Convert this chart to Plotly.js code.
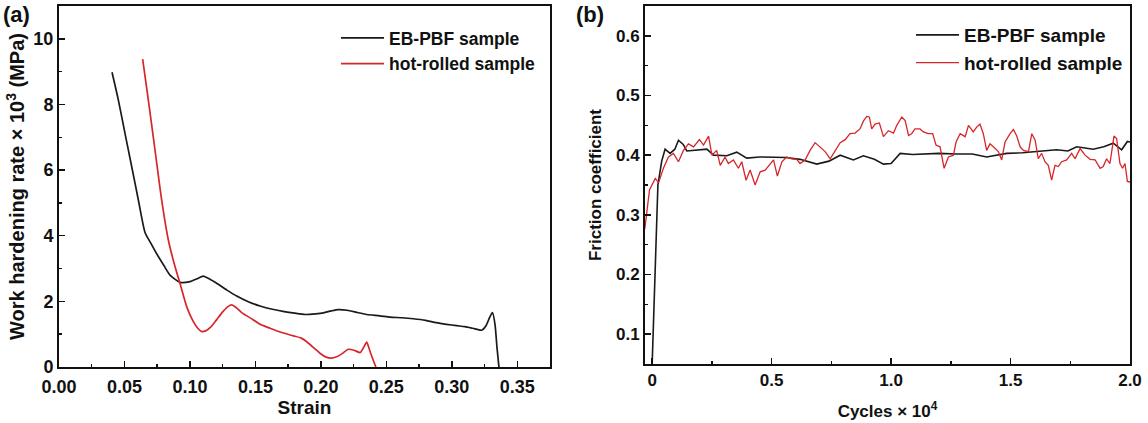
<!DOCTYPE html>
<html>
<head>
<meta charset="utf-8">
<script src="https://cdn.plot.ly/plotly-3.0.1.min.js"></script>
<style>
html,body{margin:0;padding:0;background:#fff;}
#chart{width:1148px;height:423px;}
</style>
</head>
<body>
<div id="chart"></div>
<script>
// ---- Panel (a): work hardening rate vs strain ----
const strainEB = [0.0405, 0.0453, 0.0504, 0.0555, 0.0606, 0.0657, 0.0700, 0.0746, 0.0800, 0.0848, 0.0924, 0.1000, 0.1050, 0.1102, 0.1150, 0.1204, 0.1280, 0.1357, 0.1450, 0.1535, 0.1630, 0.1720, 0.1800, 0.1880, 0.1960, 0.2020, 0.2080, 0.2133, 0.2200, 0.2280, 0.2350, 0.2450, 0.2530, 0.2620, 0.2706, 0.2800, 0.2880, 0.2960, 0.3037, 0.3100, 0.3160, 0.3228, 0.3260, 0.3290, 0.3310, 0.3330, 0.3345, 0.3360];
const rateEB = [8.98, 8.14, 7.12, 6.11, 5.09, 4.10, 3.78, 3.45, 3.10, 2.80, 2.58, 2.60, 2.68, 2.77, 2.68, 2.55, 2.35, 2.16, 1.98, 1.86, 1.76, 1.69, 1.64, 1.60, 1.62, 1.65, 1.71, 1.75, 1.73, 1.66, 1.60, 1.56, 1.52, 1.50, 1.47, 1.42, 1.35, 1.30, 1.26, 1.23, 1.18, 1.12, 1.25, 1.52, 1.66, 1.30, 0.60, 0.00];
const strainHR = [0.0639, 0.0682, 0.0733, 0.0784, 0.0835, 0.0886, 0.0924, 0.0975, 0.1026, 0.1060, 0.1090, 0.1120, 0.1160, 0.1200, 0.1250, 0.1290, 0.1319, 0.1350, 0.1400, 0.1480, 0.1535, 0.1600, 0.1700, 0.1790, 0.1850, 0.1892, 0.1950, 0.1993, 0.2040, 0.2080, 0.2120, 0.2160, 0.2210, 0.2260, 0.2300, 0.2330, 0.2350, 0.2380, 0.2420];
const rateHR = [9.38, 8.14, 6.62, 5.09, 3.87, 3.06, 2.55, 1.84, 1.38, 1.18, 1.08, 1.10, 1.22, 1.42, 1.68, 1.84, 1.89, 1.82, 1.64, 1.45, 1.30, 1.20, 1.05, 0.95, 0.88, 0.77, 0.57, 0.42, 0.30, 0.27, 0.31, 0.40, 0.54, 0.50, 0.44, 0.62, 0.76, 0.42, 0.00];

// ---- Panel (b): friction coefficient vs cycles (x 10^4) ----
const cyclesEB = [0, 0.008, 0.016, 0.024, 0.040, 0.054, 0.075, 0.095, 0.110, 0.130, 0.145, 0.187, 0.229, 0.257, 0.3125, 0.354, 0.396, 0.450, 0.508, 0.560, 0.619, 0.689, 0.740, 0.787, 0.842, 0.884, 0.930, 0.968, 1.000, 1.038, 1.090, 1.135, 1.200, 1.275, 1.340, 1.400, 1.484, 1.550, 1.623, 1.693, 1.740, 1.777, 1.846, 1.890, 1.930, 1.965, 1.989, 2.000];
const frictionEB = [0.05, 0.15, 0.26, 0.35, 0.39, 0.41, 0.403, 0.41, 0.425, 0.418, 0.407, 0.409, 0.41, 0.40, 0.399, 0.405, 0.395, 0.397, 0.396, 0.396, 0.393, 0.385, 0.39, 0.40, 0.392, 0.399, 0.393, 0.385, 0.386, 0.403, 0.401, 0.402, 0.403, 0.402, 0.402, 0.397, 0.403, 0.404, 0.406, 0.409, 0.407, 0.414, 0.41, 0.414, 0.42, 0.409, 0.423, 0.422];
const cyclesHR = [-0.031, -0.022, -0.011, 0.013, 0.027, 0.047, 0.068, 0.089, 0.110, 0.131, 0.152, 0.173, 0.198, 0.215, 0.236, 0.250, 0.270, 0.285, 0.305, 0.319, 0.340, 0.361, 0.375, 0.393, 0.410, 0.431, 0.452, 0.473, 0.494, 0.508, 0.524, 0.543, 0.563, 0.584, 0.605, 0.619, 0.640, 0.661, 0.682, 0.703, 0.724, 0.745, 0.766, 0.787, 0.808, 0.828, 0.849, 0.870, 0.884, 0.898, 0.909, 0.919, 0.933, 0.951, 0.968, 0.989, 1.010, 1.024, 1.045, 1.059, 1.073, 1.086, 1.100, 1.121, 1.135, 1.156, 1.174, 1.188, 1.205, 1.222, 1.240, 1.261, 1.272, 1.289, 1.310, 1.324, 1.344, 1.358, 1.372, 1.386, 1.400, 1.414, 1.428, 1.449, 1.463, 1.477, 1.498, 1.512, 1.526, 1.540, 1.554, 1.575, 1.589, 1.603, 1.616, 1.630, 1.644, 1.658, 1.672, 1.686, 1.700, 1.714, 1.735, 1.756, 1.770, 1.791, 1.812, 1.833, 1.854, 1.875, 1.888, 1.902, 1.916, 1.933, 1.944, 1.958, 1.969, 1.979, 1.989, 2.000];
const frictionHR = [0.276, 0.303, 0.342, 0.361, 0.354, 0.378, 0.397, 0.403, 0.389, 0.408, 0.419, 0.414, 0.426, 0.417, 0.432, 0.400, 0.408, 0.383, 0.397, 0.386, 0.392, 0.378, 0.389, 0.358, 0.375, 0.350, 0.372, 0.375, 0.386, 0.392, 0.365, 0.389, 0.397, 0.394, 0.393, 0.386, 0.392, 0.408, 0.421, 0.414, 0.406, 0.394, 0.408, 0.421, 0.426, 0.436, 0.437, 0.444, 0.457, 0.465, 0.464, 0.444, 0.452, 0.454, 0.431, 0.441, 0.437, 0.450, 0.464, 0.458, 0.433, 0.436, 0.444, 0.444, 0.439, 0.436, 0.436, 0.417, 0.414, 0.378, 0.397, 0.400, 0.422, 0.436, 0.431, 0.450, 0.439, 0.447, 0.452, 0.436, 0.408, 0.419, 0.414, 0.406, 0.392, 0.422, 0.436, 0.443, 0.432, 0.414, 0.408, 0.406, 0.436, 0.425, 0.394, 0.403, 0.389, 0.383, 0.358, 0.383, 0.381, 0.389, 0.392, 0.403, 0.394, 0.411, 0.400, 0.393, 0.392, 0.378, 0.381, 0.394, 0.386, 0.432, 0.428, 0.386, 0.378, 0.386, 0.356, 0.355];

const seriesNames = ['EB-PBF sample', 'hot-rolled sample'];
const colors = ['#1a1a1a', '#d7262b'];

const W = 1148, H = 423;
const FONT = 'Liberation Sans, Arial, sans-serif';

const traces = [
  {x: strainEB, y: rateEB, name: seriesNames[0], type: 'scatter', mode: 'lines', line: {color: colors[0], width: 1.7, shape: 'spline', smoothing: 0.6}, xaxis: 'x', yaxis: 'y', legend: 'legend'},
  {x: strainHR, y: rateHR, name: seriesNames[1], type: 'scatter', mode: 'lines', line: {color: colors[1], width: 1.7, shape: 'spline', smoothing: 0.6}, xaxis: 'x', yaxis: 'y', legend: 'legend'},
  {x: cyclesEB, y: frictionEB, name: seriesNames[0], type: 'scatter', mode: 'lines', line: {color: colors[0], width: 1.6}, xaxis: 'x2', yaxis: 'y2', legend: 'legend2'},
  {x: cyclesHR, y: frictionHR, name: seriesNames[1], type: 'scatter', mode: 'lines', line: {color: colors[1], width: 1.3}, xaxis: 'x2', yaxis: 'y2', legend: 'legend2'}
];

function font(size) { return {family: FONT, size: size, color: '#111', weight: 'bold'}; }
const minorBase = {ticks: 'inside', ticklen: 3, tickwidth: 1.5, tickcolor: '#111'};
const axBase = {
  showgrid: false, zeroline: false, showline: true, mirror: true,
  linecolor: '#111', linewidth: 2, ticks: 'inside', ticklen: 6, tickwidth: 1.5, tickcolor: '#111',
  automargin: false, fixedrange: true
};

const legendBase = {
  bgcolor: 'rgba(0,0,0,0)', borderwidth: 0, xanchor: 'left', yanchor: 'top',
  itemwidth: 43, tracegroupgap: 0
};

const layout = {
  width: W, height: H,
  margin: {l: 0, r: 0, t: 0, b: 0},
  paper_bgcolor: '#fff', plot_bgcolor: '#fff',
  showlegend: true,
  xaxis: Object.assign({}, axBase, {
    domain: [59 / W, 550 / W], range: [0, 0.375], tick0: 0, dtick: 0.05, tickformat: '.2f',
    tickfont: font(18), ticklabelstandoff: 2,
    minor: Object.assign({dtick: 0.025, tick0: 0}, minorBase),
    title: {text: 'Strain', font: font(19), standoff: 3}, anchor: 'y'
  }),
  yaxis: Object.assign({}, axBase, {
    domain: [1 - 367 / H, 1 - 6 / H], range: [0, 11], tick0: 0, dtick: 2,
    tickfont: font(18),
    minor: Object.assign({dtick: 1, tick0: 0}, minorBase),
    title: {text: 'Work hardening rate × 10<sup>3</sup> (MPa)', font: font(20), standoff: 3}, anchor: 'x'
  }),
  xaxis2: Object.assign({}, axBase, {
    domain: [645 / W, 1130 / W], range: [-0.03, 2.0], tick0: 0, dtick: 0.5, tickformat: '.1f',
    labelalias: {'0.0': '0'}, tickfont: font(17),
    minor: Object.assign({dtick: 0.25, tick0: 0}, minorBase),
    title: {text: 'Cycles × 10<sup>4</sup>', font: font(17), standoff: 16}, anchor: 'y2'
  }),
  yaxis2: Object.assign({}, axBase, {
    domain: [1 - 364 / H, 1 - 6 / H], range: [0.05, 0.65], tick0: 0.1, dtick: 0.1, tickformat: '.1f',
    tickfont: font(17),
    minor: Object.assign({dtick: 0.05, tick0: 0.05}, minorBase),
    title: {text: 'Friction coefficient', font: font(17), standoff: 10}, anchor: 'x2'
  }),
  legend: Object.assign({}, legendBase, {x: 336 / W, y: 1 - 20 / H, font: font(17.5)}),
  legend2: Object.assign({}, legendBase, {x: 911 / W, y: 1 - 16 / H, font: font(19)}),
  annotations: [
    {text: '(a)', x: 1 / W, y: 1 - 0 / H, xref: 'paper', yref: 'paper', xanchor: 'left', yanchor: 'top', showarrow: false,
     font: font(22)},
    {text: '(b)', x: 574 / W, y: 1 - 0 / H, xref: 'paper', yref: 'paper', xanchor: 'left', yanchor: 'top', showarrow: false,
     font: font(22)}
  ]
};

Plotly.newPlot('chart', traces, layout, {staticPlot: true, displayModeBar: false});
</script>
</body>
</html>
